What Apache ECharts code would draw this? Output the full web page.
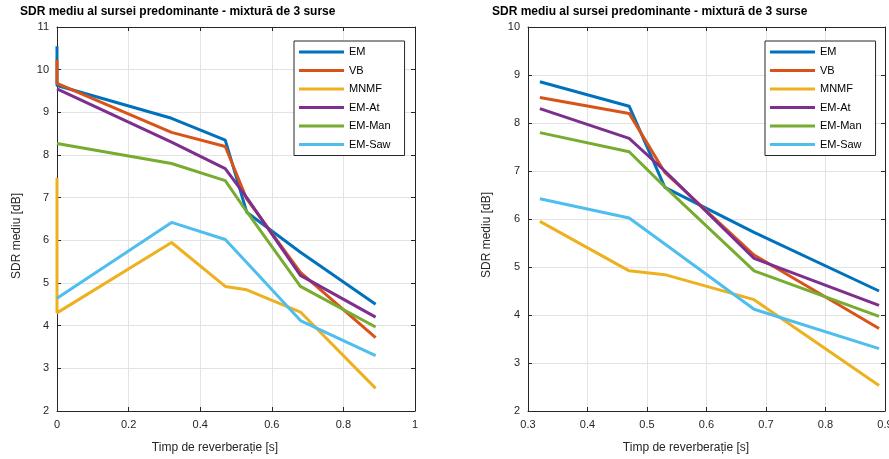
<!DOCTYPE html>
<html>
<head>
<meta charset="utf-8">
<script src="https://cdn.jsdelivr.net/npm/echarts@6/dist/echarts.min.js"></script>
<style>
  html, body { margin: 0; padding: 0; background: #fff; }
  #chart { width: 889px; height: 459px; }
</style>
</head>
<body>
<div id="chart"></div>
<script>
// timp de reverberatie [s] - cele doua puncte la 0 apar ca segment vertical
const xValues = [0, 0, 0.32, 0.47, 0.53, 0.68, 0.89];
const seriesNames = ['EM', 'VB', 'MNMF', 'EM-At', 'EM-Man', 'EM-Saw'];
const em = [10.55, 9.63, 8.86, 8.35, 6.66, 5.72, 4.5];
const vb = [10.23, 9.68, 8.53, 8.2, 6.97, 5.25, 3.72];
const mnmf = [7.46, 4.3, 5.95, 4.92, 4.84, 4.32, 2.53];
const emAt = [9.55, 9.55, 8.3, 7.68, 7.0, 5.18, 4.2];
const emMan = [8.27, 8.27, 7.8, 7.4, 6.67, 4.92, 3.97];
const emSaw = [4.64, 4.64, 6.42, 6.02, 5.48, 4.12, 3.3];
const seriesValues = [em, vb, mnmf, emAt, emMan, emSaw];

const colors = ['#0072BD', '#D95319', '#EDB120', '#7E2F8E', '#77AC30', '#4DBEEE'];
const font = '"Liberation Sans", Arial, sans-serif';
const titleText = 'SDR mediu al sursei predominante - mixtură de 3 surse';

const chart = echarts.init(document.getElementById('chart'));

function axisBase(extra) {
  return Object.assign({
    axisLine: {show: true, onZero: false, lineStyle: {color: '#262626', width: 1}},
    axisTick: {show: true, inside: true, length: 4, lineStyle: {color: '#262626'}},
    axisLabel: {color: '#262626', fontSize: 11, fontFamily: font, margin: 8},
    splitLine: {show: true, lineStyle: {color: '#e3e3e3', width: 1}}
  }, extra);
}

function mirrorAxis(extra) {
  return Object.assign(axisBase(extra), {
    axisLabel: {show: false},
    splitLine: {show: false}
  });
}

function legendFor(left) {
  return {
    orient: 'vertical',
    left: left,
    top: 41,
    icon: 'rect',
    itemWidth: 45,
    itemHeight: 3,
    itemGap: 4.5,
    itemTextGap: 4,
    padding: [4, 14, 4, 5],
    borderColor: '#262626',
    borderWidth: 1,
    backgroundColor: '#fff',
    textStyle: {fontSize: 11, fontFamily: font, color: '#000', lineHeight: 14},
    data: seriesNames
  };
}

const series = [];
seriesNames.forEach((name, i) => {
  const vals = seriesValues[i];
  series.push({
    name: name,
    type: 'line',
    xAxisIndex: 0,
    yAxisIndex: 0,
    symbol: 'none',
    clip: false,
    lineStyle: {width: 3, color: colors[i]},
    itemStyle: {color: colors[i]},
    data: xValues.map((x, j) => [x, vals[j]])
  });
  series.push({
    name: name,
    type: 'line',
    xAxisIndex: 2,
    yAxisIndex: 2,
    symbol: 'none',
    clip: false,
    lineStyle: {width: 3, color: colors[i]},
    itemStyle: {color: colors[i]},
    data: xValues.slice(2).map((x, j) => [x, vals[j + 2]])
  });
});

const option = {
  animation: false,
  color: colors,
  grid: [
    {left: 57, top: 27, width: 358, height: 384, outerBoundsMode: 'none'},
    {left: 528, top: 27, width: 357, height: 384, outerBoundsMode: 'none'}
  ],
  xAxis: [
    axisBase({type: 'value', gridIndex: 0, min: 0, max: 1, interval: 0.2, position: 'bottom'}),
    mirrorAxis({type: 'value', gridIndex: 0, min: 0, max: 1, interval: 0.2, position: 'top'}),
    axisBase({type: 'value', gridIndex: 1, min: 0.3, max: 0.9, interval: 0.1, position: 'bottom'}),
    mirrorAxis({type: 'value', gridIndex: 1, min: 0.3, max: 0.9, interval: 0.1, position: 'top'})
  ],
  yAxis: [
    axisBase({type: 'value', gridIndex: 0, min: 2, max: 11, interval: 1, position: 'left'}),
    mirrorAxis({type: 'value', gridIndex: 0, min: 2, max: 11, interval: 1, position: 'right'}),
    axisBase({type: 'value', gridIndex: 1, min: 2, max: 10, interval: 1, position: 'left'}),
    mirrorAxis({type: 'value', gridIndex: 1, min: 2, max: 10, interval: 1, position: 'right'})
  ],
  legend: [legendFor(294), legendFor(765)],
  graphic: [
    {type: 'text', x: 20, y: 12, style: {text: titleText, font: 'bold 12px ' + font, fill: '#000', textVerticalAlign: 'middle'}},
    {type: 'text', x: 492, y: 12, style: {text: titleText, font: 'bold 12px ' + font, fill: '#000', textVerticalAlign: 'middle'}},
    {type: 'text', x: 215, y: 448, style: {text: 'Timp de reverberație [s]', font: '12px ' + font, fill: '#262626', textAlign: 'center', textVerticalAlign: 'middle'}},
    {type: 'text', x: 686, y: 448, style: {text: 'Timp de reverberație [s]', font: '12px ' + font, fill: '#262626', textAlign: 'center', textVerticalAlign: 'middle'}},
    {type: 'text', x: 17, y: 236, rotation: Math.PI / 2, style: {text: 'SDR mediu [dB]', font: '12px ' + font, fill: '#262626', textAlign: 'center', textVerticalAlign: 'middle'}},
    {type: 'text', x: 487, y: 235, rotation: Math.PI / 2, style: {text: 'SDR mediu [dB]', font: '12px ' + font, fill: '#262626', textAlign: 'center', textVerticalAlign: 'middle'}}
  ],
  series: series
};

chart.setOption(option);
</script>
</body>
</html>
